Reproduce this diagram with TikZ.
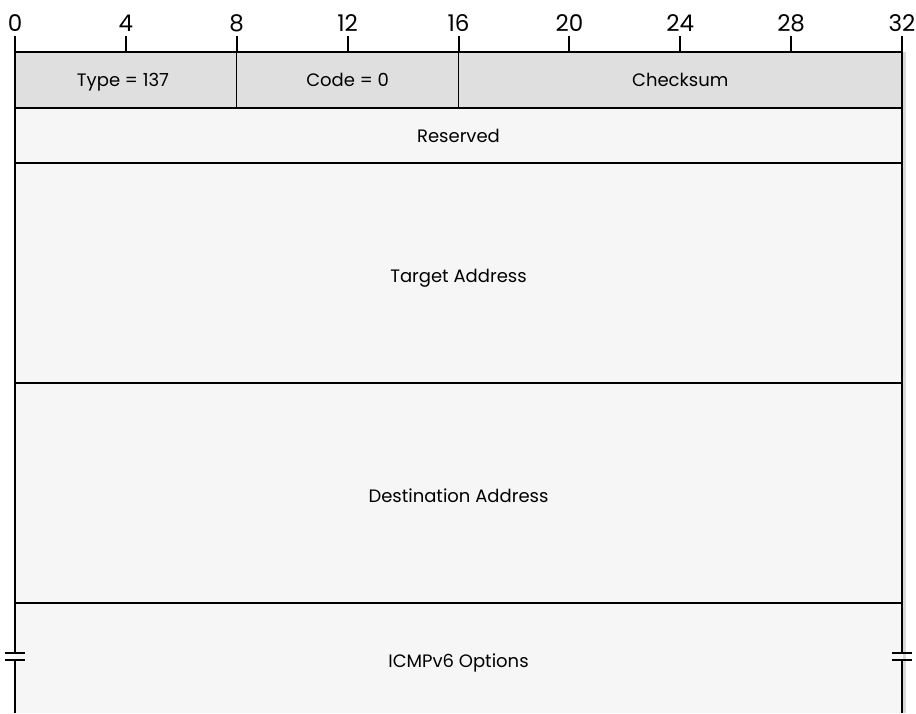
\documentclass[tikz,border=0pt]{standalone}
\usepackage{fontspec}
\setmainfont{Poppins}
\begin{document}
\begin{tikzpicture}[x=1pt,y=-1pt,
  thick line/.style={line width=2pt,black},
  thin line/.style={line width=1.1pt,black},
  fieldlabel/.style={font=\fontsize{18}{20}\selectfont,anchor=base},
  ticklabel/.style={font=\fontsize{23}{26}\selectfont,anchor=base},
]
\useasboundingbox (0,0) rectangle (916,713);
\fill[white] (0,0) rectangle (916,713);
% fills
\fill[gray!25!white] (15,52) rectangle (902,108);
\fill[gray!7!white] (15,108) rectangle (902,713);
\fill[gray!30!white] (903,52) rectangle (906,713);
% row lines
\draw[thin line] (15,108) -- (902,108);
\draw[thin line] (15,163) -- (902,163);
\draw[thin line] (15,383) -- (902,383);
\draw[thin line] (15,603) -- (902,603);
\draw[thin line] (236.75,52) -- (236.75,108);
\draw[thin line] (458.5,52) -- (458.5,108);
% top line and ticks
\draw[thick line] (15,52) -- (902,52);
\foreach \i in {0,...,8} {
  \pgfmathsetmacro{\xx}{15+\i*110.875}
  \draw[thick line] (\xx,36) -- (\xx,52);
}
\foreach \i/\lab in {0/0,1/4,2/8,3/12,4/16,5/20,6/24,7/28,8/32} {
  \pgfmathsetmacro{\xx}{15+\i*110.875}
  \node[ticklabel] (t\i) at (\xx,31) {\lab};
}
% verticals with break
\draw[thick line] (15,52) -- (15,653);
\draw[thick line] (15,660) -- (15,713);
\draw[thick line] (902,52) -- (902,653);
\draw[thick line] (902,660) -- (902,713);
\draw[thick line] (5,653) -- (25,653);
\draw[thick line] (5,660) -- (25,660);
\draw[thick line] (892,653) -- (912,653);
\draw[thick line] (892,660) -- (912,660);
% labels
\node[fieldlabel] (type) at (123,86) {Type = 137};
\node[fieldlabel] (code) at (347.6,86) {Code = 0};
\node[fieldlabel] (cks) at (680.25,86) {Checksum};
\node[fieldlabel] (res) at (458.5,142) {Reserved};
\node[fieldlabel] (tgt) at (458.5,282) {Target Address};
\node[fieldlabel] (dst) at (458.5,502) {Destination Address};
\node[fieldlabel] (opt) at (458.5,667) {ICMPv6 Options};
\end{tikzpicture}
\end{document}
